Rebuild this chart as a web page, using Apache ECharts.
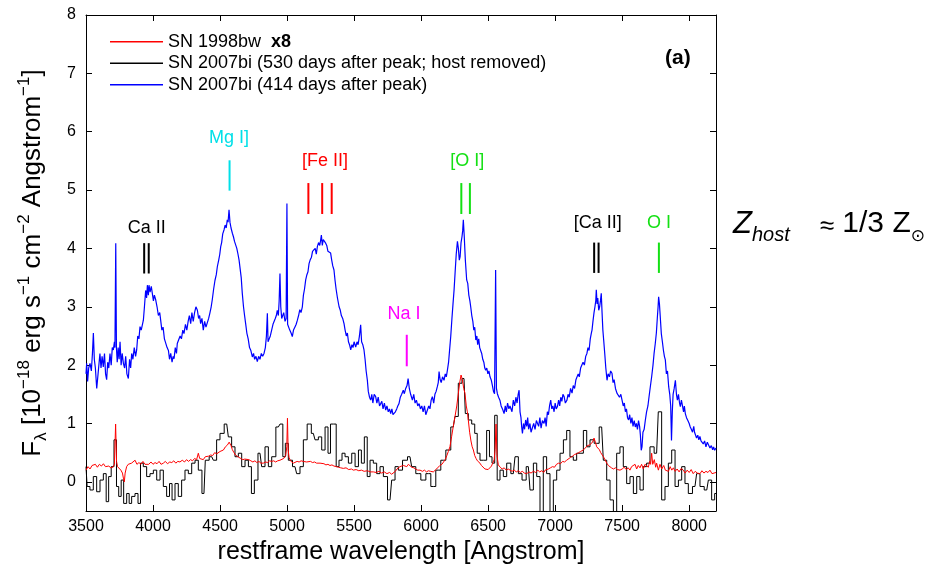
<!DOCTYPE html>
<html>
<head>
<meta charset="utf-8">
<script src="https://cdn.jsdelivr.net/npm/echarts@6/dist/echarts.min.js"></script>
<style>
html,body{margin:0;padding:0;background:#fff;}
#chart{width:935px;height:565px;}
</style>
</head>
<body>
<div id="chart"></div>
<script>
// ---------------- DATA ----------------
const xTicks = [3500,4000,4500,5000,5500,6000,6500,7000,7500,8000];
const yTicks = [0,1,2,3,4,5,6,7,8];

const seriesNames = ['SN 1998bw', 'SN 2007bi (530 days after peak; host removed)', 'SN 2007bi (414 days after peak)'];

// SN 2007bi, 414 days (blue)
const blueWave = [3500,3505,3512,3520,3530,3540,3548,3555,3562,3570,3580,3590,3598,3604,3612,3620,3629,3638,3646,3654,3662,3670,3679,3688,3696,3704,3712,3716,3722,3727,3733,3740,3747,3754,3762,3770,3779,3788,3796,3805,3816,3825,3833,3841,3850,3860,3870,3878,3886,3895,3903,3912,3920,3928,3936,3945,3952,3958,3965,3970,3978,3987,3995,4003,4010,4020,4030,4040,4050,4057,4066,4075,4085,4094,4105,4115,4123,4132,4142,4150,4157,4166,4175,4181,4192,4202,4212,4222,4231,4242,4252,4262,4271,4281,4290,4300,4310,4320,4331,4340,4348,4355,4365,4375,4385,4395,4405,4415,4425,4434,4442,4452,4462,4472,4480,4490,4498,4505,4512,4520,4530,4538,4546,4554,4560,4567,4574,4582,4592,4600,4608,4617,4625,4634,4642,4650,4658,4666,4675,4683,4691,4700,4710,4720,4730,4741,4750,4758,4768,4778,4788,4798,4808,4818,4828,4838,4846,4853,4858,4865,4875,4885,4895,4903,4912,4920,4927,4935,4941,4947,4953,4960,4966,4975,4985,4993,4999,5004,5012,5020,5030,5039,5048,5058,5068,5077,5086,5095,5104,5114,5122,5130,5139,5148,5156,5164,5172,5182,5190,5201,5210,5218,5226,5235,5244,5251,5256,5263,5270,5280,5288,5296,5305,5315,5325,5333,5341,5350,5358,5366,5376,5388,5396,5405,5415,5425,5433,5442,5450,5458,5466,5475,5484,5492,5500,5512,5522,5530,5540,5549,5556,5565,5574,5582,5590,5599,5606,5615,5624,5632,5640,5650,5661,5670,5680,5690,5698,5707,5716,5726,5736,5745,5755,5764,5773,5782,5790,5798,5808,5818,5826,5835,5845,5855,5867,5875,5885,5895,5903,5912,5922,5935,5945,5955,5965,5975,5985,5995,6005,6015,6025,6035,6047,6057,6066,6075,6084,6094,6103,6112,6121,6128,6134,6142,6150,6160,6171,6180,6188,6196,6205,6214,6221,6230,6238,6246,6254,6262,6271,6278,6285,6291,6298,6305,6310,6315,6322,6330,6340,6348,6356,6364,6370,6378,6386,6393,6400,6408,6416,6422,6430,6437,6445,6452,6460,6468,6475,6482,6490,6498,6506,6514,6524,6532,6540,6548,6556,6562,6569,6578,6588,6597,6607,6619,6628,6636,6645,6655,6663,6669,6678,6688,6698,6707,6716,6724,6731,6738,6745,6750,6756,6764,6772,6780,6788,6795,6802,6812,6820,6830,6840,6850,6860,6868,6877,6886,6895,6905,6917,6925,6933,6942,6950,6958,6967,6975,6983,6992,7000,7008,7017,7026,7034,7042,7050,7058,7067,7076,7088,7096,7105,7115,7126,7135,7145,7155,7163,7172,7180,7190,7200,7208,7218,7228,7237,7245,7253,7262,7270,7275,7282,7290,7297,7303,7307,7313,7318,7325,7332,7338,7344,7350,7356,7362,7370,7378,7387,7395,7405,7414,7424,7432,7440,7450,7461,7470,7480,7490,7499,7508,7516,7524,7532,7540,7548,7556,7565,7573,7581,7590,7598,7606,7614,7622,7630,7636,7642,7648,7655,7664,7673,7682,7692,7700,7710,7720,7730,7738,7747,7755,7762,7768,7772,7778,7785,7792,7800,7808,7815,7822,7830,7838,7847,7855,7862,7868,7874,7880,7888,7897,7905,7912,7920,7928,7934,7942,7950,7958,7964,7971,7980,7990,8000,8008,8016,8025,8034,8040,8046,8055,8064,8072,8080,8088,8095,8105,8115,8125,8135,8145,8155,8165,8175,8182,8190,8200];
const blueFlux = [1.85,2.03,1.72,1.95,2.03,1.90,2.2,2.55,2.1,1.95,1.60,1.85,2.05,2.2,1.95,2.15,1.97,2.2,1.85,1.75,2.05,1.95,2.2,2.0,2.3,2.26,2.4,2.3,4.09,2.3,2.05,2.3,2.1,2.4,2.0,2.2,2.03,1.95,2.15,1.85,1.77,2.1,1.95,2.2,2.1,2.3,2.15,2.26,2.5,2.45,2.66,2.6,2.6,2.77,3.0,3.28,3.15,3.37,3.2,3.37,3.25,3.35,3.34,3.1,3.2,3.12,3.0,2.85,2.9,2.77,2.6,2.65,2.45,2.43,2.3,2.25,2.1,2.2,2.05,2.15,2.11,2.3,2.2,2.37,2.4,2.5,2.45,2.6,2.54,2.7,2.6,2.75,2.85,2.71,2.9,2.75,2.9,3.0,2.94,2.8,2.85,2.71,2.8,2.6,2.75,2.65,2.66,2.8,2.9,3.0,3.12,3.3,3.45,3.55,3.69,3.8,3.9,4.03,4.1,4.25,4.32,4.4,4.35,4.49,4.45,4.66,4.45,4.35,4.26,4.2,4.12,4.09,4.0,3.9,3.8,3.65,3.5,3.23,3.0,2.85,2.71,2.55,2.45,2.3,2.25,2.14,2.2,2.1,2.15,2.06,2.15,2.1,2.2,2.15,2.2,2.3,2.5,2.89,2.4,2.37,2.5,2.6,2.7,2.71,2.8,2.85,2.94,2.85,3.1,3.57,3.0,2.8,2.77,2.9,2.75,2.8,4.77,2.7,2.71,2.6,2.55,2.49,2.6,2.65,2.7,2.77,2.85,2.95,2.9,3.0,3.2,3.3,3.46,3.55,3.6,3.74,3.8,3.85,3.95,3.92,4.0,3.9,4.03,4.1,4.05,4.15,4.23,4.05,4.15,4.12,4.09,4.05,3.95,3.98,3.92,3.8,3.7,3.63,3.45,3.3,3.15,3.0,2.95,2.85,2.8,2.71,2.6,2.5,2.55,2.4,2.35,2.26,2.35,2.3,2.4,2.31,2.4,2.35,2.5,2.69,2.4,2.35,2.26,2.1,1.9,1.74,1.55,1.45,1.40,1.5,1.35,1.5,1.46,1.35,1.45,1.3,1.29,1.38,1.25,1.35,1.23,1.3,1.2,1.25,1.17,1.25,1.15,1.12,1.2,1.25,1.3,1.34,1.45,1.5,1.57,1.51,1.6,1.65,1.77,1.6,1.5,1.40,1.5,1.35,1.4,1.3,1.34,1.25,1.3,1.2,1.3,1.15,1.12,1.3,1.25,1.4,1.46,1.35,1.5,1.55,1.63,1.7,1.89,1.75,1.7,1.8,1.74,1.85,1.8,1.91,2.05,2.3,2.49,2.8,3.05,3.29,3.6,3.9,4.12,4.0,3.8,3.86,4.1,4.2,4.3,4.49,4.2,3.8,3.46,3.4,3.2,3.1,3.0,2.85,2.75,2.6,2.65,2.43,2.5,2.35,2.45,2.3,2.31,2.2,2.1,2.05,1.95,1.91,1.95,1.85,1.9,1.8,1.74,1.65,1.55,1.51,3.63,1.6,1.51,1.45,1.4,1.3,1.25,1.17,1.3,1.2,1.35,1.25,1.3,1.29,1.2,1.4,1.3,1.45,1.35,1.5,1.57,1.2,1.1,0.95,0.83,1.0,0.9,1.06,0.95,1.1,0.9,1.0,0.85,0.83,1.0,0.9,1.05,1.06,0.95,1.1,0.92,1.05,1.0,1.1,0.95,1.2,1.15,1.3,1.40,1.25,1.3,1.2,1.35,1.25,1.29,1.4,1.3,1.45,1.38,1.5,1.46,1.35,1.40,1.5,1.45,1.6,1.52,1.65,1.6,1.75,1.74,1.85,1.8,1.95,1.97,2.05,2.0,2.15,2.2,2.3,2.25,2.45,2.55,2.6,2.75,2.9,3.0,3.1,3.29,3.05,3.15,2.94,3.0,3.1,3.23,2.9,2.6,2.43,2.2,1.95,1.74,1.85,1.8,1.9,1.86,1.7,1.75,1.6,1.52,1.55,1.45,1.5,1.40,1.3,1.35,1.2,1.25,1.1,1.06,1.15,1.0,1.1,0.95,1.05,0.94,1.0,0.9,1.05,0.95,0.8,0.54,0.6,0.85,0.9,1.06,1.2,1.3,1.45,1.63,1.8,2.0,2.2,2.37,2.55,2.8,3.0,3.17,3.05,2.8,2.54,2.4,2.25,2.15,2.09,1.85,1.9,1.63,1.5,1.3,0.71,1.2,1.5,1.6,1.74,1.5,1.4,1.5,1.35,1.29,1.4,1.3,1.2,1.3,1.17,1.1,1.05,1.0,0.94,0.9,0.85,0.95,0.85,0.83,0.75,0.8,0.72,0.78,0.7,0.71,0.65,0.7,0.6,0.68,0.66,0.58,0.62,0.55,0.6,0.54,0.58];

// SN 1998bw x8 (red)
const redWave = [3500,3515,3530,3545,3555,3570,3585,3600,3615,3630,3645,3654,3670,3685,3700,3712,3721,3728,3735,3745,3760,3772,3780,3786,3792,3803,3815,3828,3840,3853,3866,3880,3895,3910,3925,3940,3953,3968,3985,4000,4015,4030,4045,4060,4077,4092,4108,4125,4140,4155,4170,4185,4201,4218,4235,4250,4265,4280,4295,4310,4325,4338,4348,4362,4375,4390,4400,4415,4430,4445,4460,4475,4487,4500,4512,4525,4540,4555,4568,4574,4582,4592,4604,4615,4624,4640,4655,4670,4685,4699,4715,4730,4745,4760,4775,4790,4805,4823,4840,4855,4870,4885,4900,4915,4930,4947,4960,4975,4990,4998,5003,5008,5015,5025,5035,5047,5060,5075,5090,5105,5120,5134,5146,5160,5175,5190,5205,5220,5233,5246,5260,5275,5290,5305,5320,5335,5350,5370,5385,5400,5420,5440,5460,5480,5495,5515,5535,5555,5575,5600,5620,5644,5665,5685,5705,5725,5745,5765,5780,5793,5808,5820,5830,5842,5855,5868,5880,5893,5905,5917,5930,5945,5960,5975,5992,6010,6025,6040,6055,6070,6080,6091,6105,6115,6125,6140,6155,6166,6180,6192,6203,6215,6228,6240,6253,6266,6278,6288,6298,6308,6318,6327,6337,6345,6352,6362,6372,6381,6390,6400,6410,6420,6430,6439,6450,6462,6476,6489,6500,6512,6525,6534,6545,6552,6559,6566,6576,6590,6605,6620,6635,6650,6663,6678,6695,6710,6725,6740,6755,6770,6788,6805,6820,6838,6855,6870,6885,6900,6915,6925,6937,6950,6965,6980,6995,7010,7025,7040,7055,7070,7086,7100,7115,7130,7145,7160,7175,7190,7210,7225,7240,7255,7272,7283,7290,7300,7310,7320,7330,7340,7350,7360,7372,7385,7397,7409,7420,7435,7450,7465,7484,7500,7515,7530,7545,7558,7570,7583,7596,7608,7620,7633,7645,7658,7670,7683,7695,7705,7712,7720,7728,7740,7750,7757,7770,7782,7795,7810,7822,7832,7845,7858,7870,7882,7895,7910,7925,7940,7956,7970,7985,8000,8015,8030,8045,8060,8081,8095,8110,8125,8140,8155,8170,8180,8200];
const redFlux = [0.2,0.26,0.22,0.28,0.26,0.3,0.25,0.3,0.27,0.31,0.26,0.29,0.27,0.24,0.25,0.3,0.99,0.35,0.26,0.25,0.2,0.15,0.05,0.0,0.15,0.26,0.3,0.28,0.32,0.3,0.37,0.3,0.33,0.3,0.35,0.3,0.32,0.3,0.34,0.3,0.33,0.31,0.35,0.3,0.32,0.35,0.31,0.34,0.33,0.36,0.32,0.35,0.34,0.37,0.34,0.38,0.35,0.38,0.36,0.4,0.38,0.49,0.4,0.42,0.38,0.43,0.40,0.44,0.46,0.45,0.5,0.48,0.49,0.52,0.55,0.545,0.6,0.63,0.68,0.71,0.62,0.55,0.5,0.46,0.43,0.42,0.4,0.38,0.39,0.37,0.38,0.36,0.34,0.36,0.33,0.35,0.32,0.32,0.34,0.33,0.36,0.35,0.36,0.34,0.36,0.37,0.38,0.4,0.45,0.6,1.09,0.55,0.42,0.36,0.34,0.32,0.33,0.35,0.34,0.36,0.35,0.37,0.34,0.36,0.35,0.33,0.34,0.32,0.33,0.32,0.3,0.31,0.29,0.3,0.28,0.29,0.27,0.26,0.25,0.24,0.23,0.24,0.21,0.22,0.2,0.21,0.19,0.2,0.18,0.19,0.17,0.17,0.16,0.18,0.15,0.17,0.14,0.16,0.13,0.14,0.18,0.22,0.25,0.26,0.23,0.28,0.25,0.26,0.3,0.29,0.25,0.24,0.22,0.2,0.2,0.18,0.2,0.17,0.19,0.18,0.2,0.17,0.2,0.22,0.25,0.28,0.3,0.32,0.38,0.45,0.52,0.60,0.78,0.95,1.12,1.3,1.52,1.7,1.83,1.75,1.6,1.52,1.3,1.2,1.06,0.85,0.7,0.6,0.545,0.45,0.4,0.36,0.34,0.32,0.28,0.25,0.22,0.2,0.21,0.23,0.27,0.32,0.38,0.55,0.99,0.45,0.29,0.25,0.22,0.24,0.2,0.22,0.2,0.18,0.2,0.17,0.19,0.16,0.18,0.15,0.14,0.17,0.15,0.18,0.16,0.2,0.17,0.19,0.16,0.2,0.2,0.22,0.24,0.26,0.25,0.3,0.32,0.31,0.35,0.34,0.37,0.4,0.42,0.44,0.47,0.48,0.5,0.52,0.545,0.58,0.62,0.63,0.66,0.7,0.75,0.68,0.60,0.62,0.55,0.5,0.47,0.43,0.38,0.32,0.28,0.26,0.24,0.22,0.24,0.21,0.2,0.22,0.25,0.21,0.24,0.2,0.26,0.23,0.3,0.22,0.28,0.24,0.3,0.22,0.3,0.29,0.25,0.35,0.3,0.49,0.3,0.38,0.25,0.32,0.2,0.3,0.22,0.28,0.2,0.23,0.18,0.26,0.2,0.24,0.18,0.22,0.17,0.23,0.2,0.15,0.2,0.16,0.21,0.14,0.18,0.15,0.14,0.19,0.15,0.18,0.16,0.2,0.14,0.17,0.16];

// SN 2007bi, 530 days, host removed (black, binned)
const blackWave = [3500,3517,3542,3567,3592,3617,3642,3659,3679,3697,3721,3734,3754,3771,3791,3816,3828,3853,3878,3898,3915,3940,3965,3990,4015,4040,4065,4089,4114,4132,4152,4176,4201,4226,4251,4276,4301,4326,4350,4380,4400,4438,4462,4487,4512,4550,4574,4599,4624,4649,4674,4699,4724,4744,4768,4798,4823,4848,4873,4898,4935,4960,4977,4997,5022,5059,5084,5109,5134,5166,5196,5221,5246,5271,5296,5315,5333,5358,5375,5400,5420,5445,5470,5495,5520,5545,5564,5589,5607,5631,5656,5681,5706,5731,5768,5793,5818,5843,5880,5917,5942,5979,6017,6054,6091,6128,6166,6203,6240,6265,6290,6320,6340,6365,6390,6410,6427,6452,6477,6501,6519,6539,6559,6576,6601,6626,6651,6688,6713,6738,6768,6800,6825,6850,6875,6899,6924,6949,6974,6999,7024,7049,7074,7098,7123,7148,7173,7198,7223,7248,7272,7310,7347,7372,7397,7422,7447,7471,7496,7521,7546,7571,7596,7621,7645,7670,7695,7720,7757,7782,7807,7832,7857,7882,7907,7932,7956,7981,8006,8043,8068,8093,8131,8155,8180,8200];
const blackFlux = [0.26,-0.08,-0.14,0.09,-0.17,0.03,0.14,-0.34,0.09,0.26,0.72,-0.08,-0.25,0.03,-0.37,-0.2,-0.37,-0.25,-0.2,-0.37,0.32,0.26,0.09,0.14,0.2,0.03,0.2,-0.08,-0.25,-0.03,-0.31,-0.03,-0.25,0.03,0.2,0.14,0.32,0.37,0.2,-0.2,0.37,0.43,0.37,0.72,0.83,0.99,0.77,0.6,0.43,0.49,0.26,0.37,0.26,-0.2,0.03,0.49,0.26,0.6,0.26,0.43,0.94,0.99,0.43,0.66,0.37,0.26,0.14,0.26,0.72,0.99,0.83,0.72,0.77,0.545,0.94,0.49,0.99,0.99,0.26,0.37,0.49,0.43,0.32,0.49,0.26,0.545,0.32,0.77,0.09,0.37,0.32,0.14,0.26,0.09,-0.31,0.03,0.26,0.2,0.37,0.43,0.26,0.14,0.03,0.14,-0.08,0.2,0.37,0.545,0.94,1.12,1.69,1.77,1.17,1.06,0.99,0.83,0.49,0.37,0.37,0.88,0.43,0.32,1.14,0.03,0.2,0.09,0.32,0.14,0.43,0.14,0.03,0.26,-0.14,0.32,0.09,-0.55,0.43,0.14,-0.55,0.03,0.2,0.49,0.72,0.88,0.43,0.37,0.49,0.49,0.88,0.6,0.72,0.66,0.94,0.37,0.03,-0.31,-0.54,0.49,0.6,0.26,-0.03,0.09,-0.2,0.09,-0.14,0.26,0.32,0.6,0.49,1.2,-0.31,-0.08,0.32,0.545,-0.08,0.03,0.26,-0.03,-0.2,-0.08,0.14,-0.08,-0.14,0.03,-0.31,-0.2];

// line identifications
const ionNames = ['Ca II', 'Mg I]', '[Fe II]', 'Na I', '[O I]', '[Ca II]', 'O I'];
const ionLineWaves = [[3934, 3968], [4571], [5159, 5262, 5333], [5893], [6300, 6364], [7291, 7324], [7774]];
const ionTickLow  = [3.57, 4.99, 4.59, 1.98, 4.59, 3.58, 3.58];
const ionTickHigh = [4.09, 5.51, 5.12, 2.52, 5.12, 4.10, 4.10];
const ionLabelWave = [3953, 4567, 5283, 5872, 6345, 7317, 7775];
const ionLabelFlux = [4.35, 5.89, 5.49, 2.87, 5.49, 4.43, 4.43];
const ionColors = ['#000000', '#00e0e8', '#ff0000', '#ff00ff', '#14e014', '#000000', '#14e014'];

// ---------------- BUILD ----------------
const zip = (a, b) => a.map((v, i) => [v, b[i]]);
const FONT = 'Liberation Sans, Arial, Helvetica, sans-serif';

const tickData = [];
ionLineWaves.forEach((ws, k) => ws.forEach(w => tickData.push([w, ionTickLow[k], ionTickHigh[k], k])));
const labelData = ionNames.map((n, k) => [ionLabelWave[k], ionLabelFlux[k], k]);

const chart = echarts.init(document.getElementById('chart'), null, {renderer: 'canvas'});

const axisCommon = {
  type: 'value',
  splitLine: {show: false},
  axisLine: {show: true, onZero: false, lineStyle: {color: '#000', width: 1}},
};
const plain = v => String(v);

const option = {
  animation: false,
  backgroundColor: '#fff',
  textStyle: {fontFamily: FONT, color: '#000'},
  grid: {left: 86, top: 15, width: 630, height: 496, containLabel: false, outerBoundsMode: 'none'},
  legend: {
    orient: 'vertical', left: 105, top: 26, itemWidth: 53, itemHeight: 1.5, itemGap: 0,
    icon: 'rect', data: seriesNames,
    textStyle: {fontSize: 18, lineHeight: 21.5, color: '#000', fontFamily: FONT, rich: {
      n: {fontSize: 18, lineHeight: 21.5, fontFamily: FONT}, b: {fontSize: 18, lineHeight: 21.5, fontWeight: 'bold', fontFamily: FONT}}},
    formatter: name => name === 'SN 1998bw' ? '{n|SN 1998bw  }{b|x8}' : name,
    selectedMode: false
  },
  xAxis: [
    Object.assign({}, axisCommon, {
      min: 3500, max: 8200, position: 'bottom',
      axisTick: {inside: true, length: 6, customValues: xTicks, lineStyle: {color: '#000'}},
      axisLabel: {customValues: xTicks, formatter: plain, color: '#000', fontSize: 16, margin: 8, fontFamily: FONT},
      name: 'restframe wavelength [Angstrom]', nameLocation: 'middle', nameGap: 24,
      nameTextStyle: {fontSize: 25, color: '#000', fontFamily: FONT, verticalAlign: 'top'}
    }),
    Object.assign({}, axisCommon, {
      min: 3500, max: 8200, position: 'top',
      axisTick: {inside: true, length: 6, customValues: xTicks, lineStyle: {color: '#000'}},
      axisLabel: {show: false}
    })
  ],
  yAxis: [
    Object.assign({}, axisCommon, {
      min: -0.5, max: 8, position: 'left',
      axisTick: {inside: true, length: 6, customValues: yTicks, lineStyle: {color: '#000'}},
      axisLabel: {customValues: yTicks, formatter: plain, color: '#000', fontSize: 16, margin: 10, fontFamily: FONT},
      name: '{t|F}{sub|λ}{t| [10}{sup|−18}{t| erg s}{sup|−1}{t| cm}{sup|−2}{t| Angstrom}{sup|−1}{t|]}',
      nameLocation: 'middle', nameGap: 36, nameRotate: 90,
      nameTextStyle: {color: '#000', fontFamily: FONT, rich: {
        t: {fontSize: 26, lineHeight: 34, fontFamily: FONT, color: '#000'},
        sup: {fontSize: 17, lineHeight: 18, verticalAlign: 'top', fontFamily: FONT, color: '#000'},
        sub: {fontSize: 17, lineHeight: 18, verticalAlign: 'bottom', fontFamily: FONT, color: '#000'}
      }}
    }),
    Object.assign({}, axisCommon, {
      min: -0.5, max: 8, position: 'right',
      axisTick: {inside: true, length: 6, customValues: yTicks, lineStyle: {color: '#000'}},
      axisLabel: {show: false}
    })
  ],
  series: [
    {name: seriesNames[0], type: 'line', data: zip(redWave, redFlux), showSymbol: false, symbol: 'none',
     color: '#ff0000', lineStyle: {color: '#ff0000', width: 1}, z: 3},
    {name: seriesNames[1], type: 'line', step: 'middle', data: zip(blackWave, blackFlux), showSymbol: false, symbol: 'none',
     color: '#000000', lineStyle: {color: '#000000', width: 1}, z: 2},
    {name: seriesNames[2], type: 'line', data: zip(blueWave, blueFlux), showSymbol: false, symbol: 'none',
     color: '#0000ff', lineStyle: {color: '#0000ff', width: 1.2}, z: 4},
    {type: 'custom', data: tickData, z: 5, silent: true,
     renderItem: (params, api) => {
       const p0 = api.coord([api.value(0), api.value(1)]);
       const p1 = api.coord([api.value(0), api.value(2)]);
       return {type: 'line', shape: {x1: p0[0], y1: p0[1], x2: p1[0], y2: p1[1]},
               style: {stroke: ionColors[api.value(3)], lineWidth: 2}};
     }},
    {type: 'custom', data: labelData, z: 5, silent: true,
     renderItem: (params, api) => {
       const p = api.coord([api.value(0), api.value(1)]);
       const k = api.value(2);
       return {type: 'text', x: p[0], y: p[1],
               style: {text: ionNames[k], fill: ionColors[k], fontSize: 18, fontFamily: FONT,
                       align: 'center', verticalAlign: 'middle'}};
     }}
  ],
  graphic: [
    {type: 'text', left: 665, top: 48, style: {text: '(a)', fontSize: 21, fontWeight: 'bold', fill: '#000', fontFamily: FONT}},
    {type: 'text', left: 733, top: 209, style: {
      text: '{z|Z}{h|host}{sp|}{ap|≈}{n| 1/3 Z}{s|⊙}',
      rich: {
        z: {fontSize: 31, fontStyle: 'italic', fontFamily: FONT, fill: '#000', lineHeight: 36, verticalAlign: 'top'},
        h: {fontSize: 20, fontStyle: 'italic', fontFamily: FONT, fill: '#000', lineHeight: 22, verticalAlign: 'bottom'},
        sp: {width: 30, lineHeight: 36},
        ap: {fontSize: 26, fontFamily: FONT, fill: '#000', lineHeight: 26, verticalAlign: 'middle'},
        n: {fontSize: 30, fontFamily: FONT, fill: '#000', lineHeight: 36, verticalAlign: 'top'},
        s: {fontSize: 17, fontFamily: 'DejaVu Sans', fill: '#000', lineHeight: 20, verticalAlign: 'bottom'}
      }}}
  ]
};
chart.setOption(option);
</script>
</body>
</html>
